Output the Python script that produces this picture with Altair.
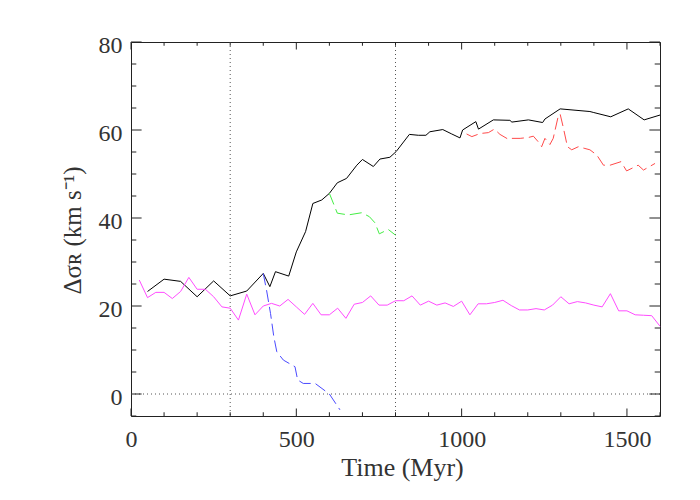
import altair as alt
import pandas as pd

# ---------------- data ----------------
black_t = [50, 100, 150, 200, 250, 300, 350, 400, 420, 437, 477, 500, 528, 550, 577, 600,
           624, 652, 683, 700, 733, 753, 783, 802, 842, 869, 892, 904, 943, 970, 995, 1003,
           1043, 1051, 1096, 1146, 1152, 1202, 1245, 1252, 1298, 1388, 1398, 1451, 1504,
           1552, 1600]
black_v = [23.3, 26.1, 25.6, 22.1, 25.7, 22.3, 23.4, 27.4, 24.4, 27.8, 26.8, 32.3, 36.9,
           43.3, 44.1, 45.6, 48.0, 49.0, 52.0, 53.3, 51.7, 53.4, 53.8, 55.1, 59.0, 58.8,
           58.8, 59.6, 60.1, 59.1, 58.2, 60.0, 61.9, 60.2, 62.3, 62.2, 61.8, 62.3, 61.7,
           62.5, 64.8, 64.2, 64.0, 63.0, 64.8, 62.3, 63.4]

magenta_t = [25, 50, 75, 100, 125, 150, 175, 200, 225, 250, 275, 300, 325, 350, 375, 400,
             425, 450, 475, 500, 525, 550, 575, 600, 625, 650, 675, 700, 725, 750, 775, 800,
             825, 850, 875, 900, 925, 950, 975, 1000, 1025, 1050, 1075, 1100, 1125, 1150,
             1175, 1200, 1225, 1250, 1275, 1300, 1325, 1350, 1375, 1400, 1425, 1450, 1475,
             1500, 1525, 1550, 1575, 1600]
magenta_v = [25.9, 21.9, 23.1, 23.1, 21.7, 23.3, 26.5, 23.8, 23.8, 22.1, 19.8, 19.5, 16.8,
             22.7, 18.0, 20.0, 20.6, 20.0, 21.5, 19.8, 18.1, 20.6, 18.0, 18.0, 19.5, 17.2,
             20.4, 20.8, 22.3, 20.2, 20.2, 21.2, 21.2, 22.3, 20.2, 21.1, 20.2, 20.7, 19.9,
             21.1, 18.0, 20.5, 20.5, 20.8, 21.3, 20.1, 19.1, 19.1, 19.4, 19.1, 20.2, 22.1,
             20.5, 21.0, 20.7, 20.2, 19.8, 22.8, 18.9, 18.9, 18.0, 17.9, 17.8, 15.4]

green_t = [600, 624, 657, 698, 721, 738, 751, 778, 800]
green_v = [45.6, 41.1, 40.7, 41.2, 40.3, 38.9, 36.4, 37.4, 36.1]

blue_t = [400, 410, 422, 432, 441, 461, 496, 504, 521, 557, 600, 632]
blue_v = [27.4, 23.6, 18.3, 13.0, 9.6, 7.7, 6.2, 3.2, 2.4, 2.4, 0.0, -3.6]

red_t = [1015, 1031, 1056, 1081, 1099, 1116, 1141, 1152, 1177, 1202, 1217, 1232, 1242,
         1252, 1267, 1277, 1293, 1298, 1308, 1320, 1333, 1353, 1373, 1388, 1409, 1429,
         1449, 1482, 1499, 1534, 1550, 1585]
red_v = [59.1, 58.5, 59.2, 59.4, 60.2, 59.0, 57.9, 58.1, 58.1, 58.3, 58.6, 57.3, 56.2,
         58.1, 56.7, 58.1, 63.4, 63.6, 60.4, 56.2, 55.5, 56.2, 55.8, 55.5, 54.3, 52.0,
         52.0, 52.8, 50.7, 52.0, 50.9, 52.4]

vlines = [300, 800]
hlines = [0]

x_major = [0, 500, 1000, 1500]
x_minor = [100, 200, 300, 400, 600, 700, 800, 900, 1100, 1200, 1300, 1400, 1600]
y_major = [0, 20, 40, 60, 80]
y_minor = [-5, 5, 10, 15, 25, 30, 35, 45, 50, 55, 65, 70, 75]

X_DOM = [0, 1600]
Y_DOM = [-5, 80]
W, H = 529, 374

FONT = "Liberation Serif"
TXT = "#333"
DASH = [12, 5]

xs = alt.Scale(domain=X_DOM, nice=False, zero=False)
ys = alt.Scale(domain=Y_DOM, nice=False, zero=False)

X_AXIS = alt.Axis(
    values=x_major, format="d", ticks=False, domain=False, grid=False, labelFont=FONT,
    labelFontSize=24, labelColor=TXT, labelPadding=11, labelFlush=False,
    title="Time (Myr)", titleFont=FONT, titleFontSize=26, titleFontWeight="normal",
    titleColor=TXT, titleX=271, titleY=59, titleBaseline="alphabetic",
    titleAlign="center")
Y_AXIS = alt.Axis(
    values=y_major, format="d", ticks=False, domain=False, grid=False, labelFont=FONT,
    labelFontSize=24, labelColor=TXT, labelPadding=9, labelOffset=3,
    labelFlush=False,
    title="Δσʀ (km s⁻¹)", titleFont=FONT, titleFontSize=25,
    titleFontWeight="normal", titleColor=TXT, titleAngle=270, titleX=-59,
    titleY=188, titleBaseline="middle", titleAlign="center")

# pixel -> data unit conversions for tick lengths
ux = (X_DOM[1] - X_DOM[0]) / W
uy = (Y_DOM[1] - Y_DOM[0]) / H
xt_major, xt_minor = 7.5 * uy, 3.75 * uy
yt_major, yt_minor = 10.6 * ux, 5.3 * ux


def X(field):
    return alt.X(field, scale=xs, axis=X_AXIS)


def Y(field):
    return alt.Y(field, scale=ys, axis=Y_AXIS)


def series(ts, vs, color, dash=None):
    df = pd.DataFrame({"t": ts, "v": vs})
    kw = dict(color=color, strokeWidth=1)
    if dash:
        kw["strokeDash"] = dash
    return alt.Chart(df).mark_line(**kw).encode(x=X("t:Q"), y=Y("v:Q"))


vdf = pd.DataFrame({"t": vlines})
vrule = alt.Chart(vdf).mark_rule(color="#555", strokeWidth=1, strokeDash=[1, 3]).encode(
    x=X("t:Q"))
hdf = pd.DataFrame({"v": hlines})
hrule = alt.Chart(hdf).mark_rule(color="#555", strokeWidth=1, strokeDash=[1, 3]).encode(
    y=Y("v:Q"))


def xticks(vals, length):
    rows = []
    for v in vals:
        rows.append({"t": v, "v": Y_DOM[0], "b": Y_DOM[0] + length})
        rows.append({"t": v, "v": Y_DOM[1], "b": Y_DOM[1] - length})
    df = pd.DataFrame(rows)
    return alt.Chart(df).mark_rule(color="#222", strokeWidth=1).encode(
        x=X("t:Q"), y=Y("v:Q"), y2="b:Q")


def yticks(vals, length):
    rows = []
    for v in vals:
        rows.append({"v": v, "t": X_DOM[0], "b": X_DOM[0] + length})
        rows.append({"v": v, "t": X_DOM[1], "b": X_DOM[1] - length})
    df = pd.DataFrame(rows)
    return alt.Chart(df).mark_rule(color="#222", strokeWidth=1).encode(
        y=Y("v:Q"), x=X("t:Q"), x2="b:Q")


chart = alt.layer(
    series(black_t, black_v, "black"),
    vrule, hrule,
    xticks(x_major, xt_major), xticks(x_minor, xt_minor),
    yticks(y_major, yt_major), yticks(y_minor, yt_minor),
    series(magenta_t, magenta_v, "#ff4cff"),
    series(green_t, green_v, "#44ee44", DASH),
    series(blue_t, blue_v, "#4a4aff", DASH),
    series(red_t, red_v, "#ff4a4a", DASH),
).properties(
    width=W, height=H,
    autosize=alt.AutoSizeParams(type="none"),
    padding={"left": 123, "top": 34, "right": 32, "bottom": 76},
    background="white",
).configure_view(stroke="#222", strokeWidth=1)

chart.save("out.html", embed_options={"renderer": "svg", "actions": False})
